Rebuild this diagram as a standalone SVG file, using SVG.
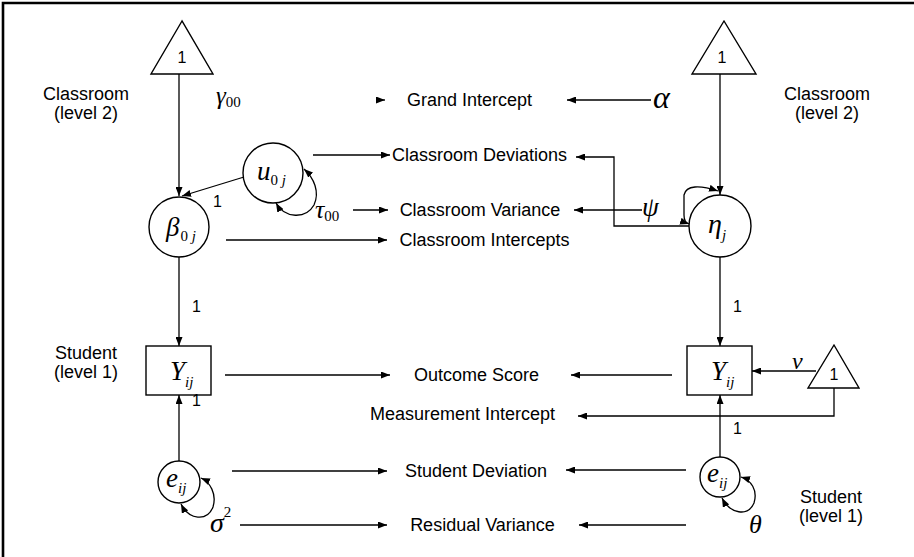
<svg xmlns="http://www.w3.org/2000/svg" width="914" height="557" viewBox="0 0 914 557">
<defs>
<marker id="ah" viewBox="0 0 10 10" refX="10" refY="5" markerUnits="userSpaceOnUse" markerWidth="9" markerHeight="7" orient="auto-start-reverse" preserveAspectRatio="none">
<path d="M0,0 L10,5 L0,10 z" fill="#000"/>
</marker>
<style>
.ln{fill:none;stroke:#000;stroke-width:1.3}
.arr{fill:none;stroke:#000;stroke-width:1.3;marker-end:url(#ah)}
.both{fill:none;stroke:#000;stroke-width:1.3;marker-start:url(#ah);marker-end:url(#ah)}
.shape{fill:#fff;stroke:#000;stroke-width:1.4}
.lbl{font-family:"Liberation Sans",Arial,sans-serif;font-size:18px;fill:#000}
.one{font-family:"Liberation Sans",Arial,sans-serif;font-size:16px;fill:#000}
.m{font-family:"Liberation Serif","Times New Roman",serif;font-style:italic;fill:#000}
.up{font-style:normal}
</style>
</defs>
<rect x="0" y="0" width="914" height="557" fill="#fff"/>
<path d="M3,557 L3,3 L914,3" fill="none" stroke="#000" stroke-width="2.6"/>

<g id="connectors">
<line class="arr" x1="179" y1="74" x2="179" y2="196"/>
<line class="arr" x1="244" y1="177" x2="182" y2="196"/>
<line class="arr" x1="313" y1="155" x2="390" y2="155"/>
<line class="arr" x1="353" y1="210" x2="388" y2="210"/>
<line class="arr" x1="226" y1="240" x2="387" y2="240"/>
<line class="arr" x1="377" y1="100" x2="385" y2="100"/>
<line class="arr" x1="651" y1="100" x2="567" y2="100"/>
<line class="arr" x1="720" y1="74" x2="720" y2="195"/>
<path class="both" d="M718,191 C700,185 686,185 684,195 L684,215 C684,220 686,223 689,224"/>
<polyline class="arr" points="689,226 614,226 614,157 576,157"/>
<line class="arr" x1="642" y1="210" x2="574" y2="210"/>
<path class="both" d="M276,203 C285,219 306,219 314,205 C320,192 314,178 304,169"/>
<line class="arr" x1="179" y1="257" x2="179" y2="346"/>
<line class="arr" x1="179" y1="461" x2="179" y2="395"/>
<line class="arr" x1="225" y1="375" x2="390" y2="375"/>
<line class="arr" x1="232" y1="471" x2="387" y2="471"/>
<line class="arr" x1="240" y1="525" x2="387" y2="525"/>
<path class="both" d="M181,504 C189,520 207,522 213,507 C217,494 210,482 201,478"/>
<line class="arr" x1="720" y1="256" x2="720" y2="346"/>
<line class="arr" x1="720" y1="457" x2="720" y2="395"/>
<line class="arr" x1="672" y1="375" x2="571" y2="375"/>
<line class="arr" x1="816" y1="371" x2="752" y2="371"/>
<polyline class="arr" points="834,388 834,416 578,416"/>
<line class="arr" x1="686" y1="470" x2="566" y2="470"/>
<line class="arr" x1="686" y1="525" x2="579" y2="525"/>
<path class="both" d="M722,498 C730,514 748,517 754,503 C758,490 751,480 741,477"/>
</g>

<g id="const-left">
<polygon class="shape" points="182,21 151,74 213,74"/>
<text class="one" x="182" y="63" text-anchor="middle">1</text>
</g>
<g id="const-right">
<polygon class="shape" points="724,21 692,74 756,74"/>
<text class="one" x="722" y="63" text-anchor="middle">1</text>
</g>
<g id="const-nu">
<polygon class="shape" points="834,345 808,388 859,388"/>
<text class="one" x="834" y="380" text-anchor="middle">1</text>
</g>
<g id="beta">
<circle class="shape" cx="179" cy="227" r="30"/>
<text class="m" x="166" y="236" font-size="27">β<tspan class="up" font-size="15" dy="5" dx="1">0 </tspan><tspan font-size="15">j</tspan></text>
</g>
<g id="u0j">
<circle class="shape" cx="273" cy="173" r="30"/>
<text class="m" x="257" y="180" font-size="27">u<tspan class="up" font-size="15" dy="5">0 </tspan><tspan font-size="15">j</tspan></text>
</g>
<g id="eta">
<circle class="shape" cx="720" cy="226" r="31"/>
<text class="m" x="708" y="233" font-size="28">η<tspan font-size="15" dy="7">j</tspan></text>
</g>
<g id="Y-left">
<rect class="shape" x="146" y="346" width="65" height="49"/>
<text class="m" x="170" y="380" font-size="27">Y<tspan font-size="15" dy="7">ij</tspan></text>
</g>
<g id="Y-right">
<rect class="shape" x="687" y="346" width="65" height="49"/>
<text class="m" x="711" y="380" font-size="27">Y<tspan font-size="15" dy="7">ij</tspan></text>
</g>
<g id="e-left">
<circle class="shape" cx="179" cy="482" r="21"/>
<text class="m" x="166" y="487" font-size="27">e<tspan font-size="15" dy="6">ij</tspan></text>
</g>
<g id="e-right">
<circle class="shape" cx="720" cy="477" r="20"/>
<text class="m" x="707" y="482" font-size="27">e<tspan font-size="15" dy="6">ij</tspan></text>
</g>

<g id="params">
<text class="m" x="216" y="104" font-size="25">γ<tspan class="up" font-size="15" dy="3">00</tspan></text>
<text class="m" x="315" y="218" font-size="26">τ<tspan class="up" font-size="15" dy="3">00</tspan></text>
<text class="m" x="653" y="108" font-size="32">α</text>
<text class="m" x="642" y="216" font-size="27">ψ</text>
<text class="m" x="792" y="369" font-size="24">ν</text>
<text class="m" x="749" y="533" font-size="26">θ</text>
<text class="m" x="210" y="532" font-size="28">σ<tspan class="up" font-size="15" dy="-15">2</tspan></text>
<text class="one" x="213" y="207">1</text>
<text class="one" x="192" y="312">1</text>
<text class="one" x="192" y="406">1</text>
<text class="one" x="733" y="312">1</text>
<text class="one" x="733" y="434">1</text>
</g>

<g id="labels">
<text class="lbl" x="86" y="100" text-anchor="middle">Classroom</text>
<text class="lbl" x="86" y="119" text-anchor="middle">(level 2)</text>
<text class="lbl" x="827" y="100" text-anchor="middle">Classroom</text>
<text class="lbl" x="827" y="119" text-anchor="middle">(level 2)</text>
<text class="lbl" x="86" y="359" text-anchor="middle">Student</text>
<text class="lbl" x="86" y="378" text-anchor="middle">(level 1)</text>
<text class="lbl" x="831" y="503" text-anchor="middle">Student</text>
<text class="lbl" x="831" y="522" text-anchor="middle">(level 1)</text>
<text class="lbl" x="469.5" y="106" text-anchor="middle">Grand Intercept</text>
<text class="lbl" x="479.5" y="161" text-anchor="middle">Classroom Deviations</text>
<text class="lbl" x="480" y="216" text-anchor="middle">Classroom Variance</text>
<text class="lbl" x="484.5" y="246" text-anchor="middle">Classroom Intercepts</text>
<text class="lbl" x="476.5" y="381" text-anchor="middle">Outcome Score</text>
<text class="lbl" x="462.5" y="420" text-anchor="middle">Measurement Intercept</text>
<text class="lbl" x="476" y="477" text-anchor="middle">Student Deviation</text>
<text class="lbl" x="482.5" y="531" text-anchor="middle">Residual Variance</text>
</g>
</svg>
